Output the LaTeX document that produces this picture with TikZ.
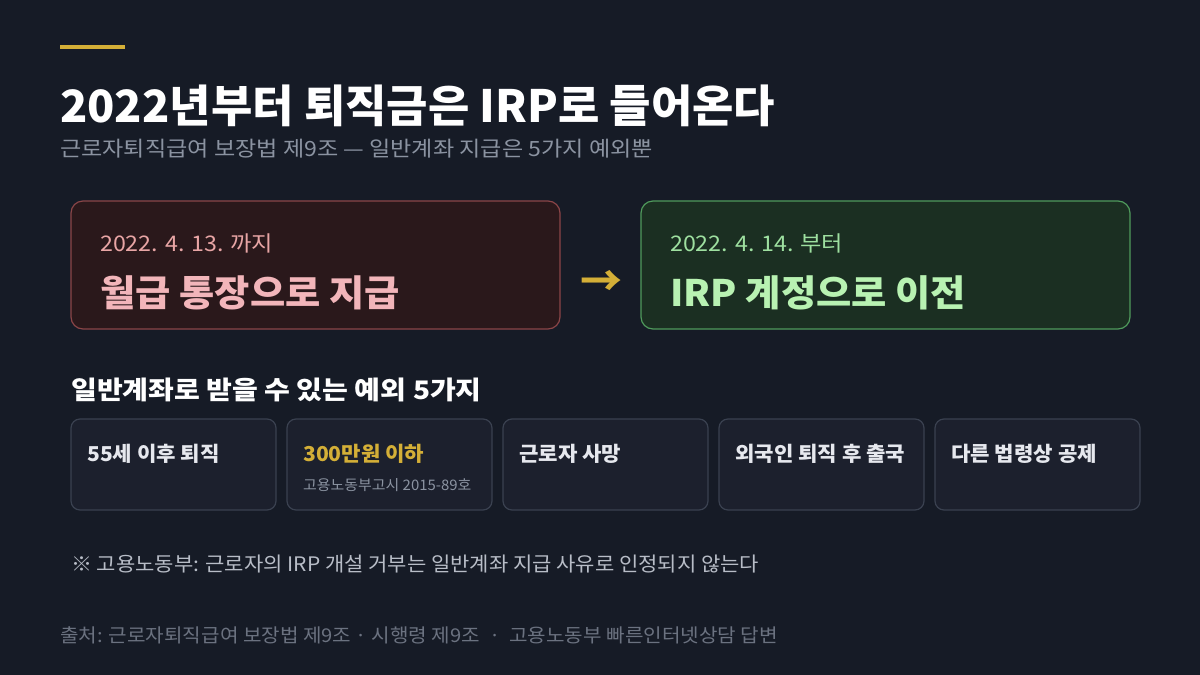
\documentclass[tikz,border=0pt]{standalone}
\usepackage{fontspec}
\setmainfont{Noto Sans CJK KR}
\definecolor{bg}{HTML}{161B26}
\definecolor{gold}{HTML}{D4AF37}
\definecolor{sub}{HTML}{8B93A1}
\definecolor{redf}{HTML}{2A181B}
\definecolor{redb}{HTML}{8A4548}
\definecolor{redt}{HTML}{E8A5A5}
\definecolor{redm}{HTML}{F2B5BA}
\definecolor{grnf}{HTML}{1B2F22}
\definecolor{grnb}{HTML}{4F9A5C}
\definecolor{grnt}{HTML}{9EE0A0}
\definecolor{grnm}{HTML}{B8F2B2}
\definecolor{cardf}{HTML}{1C202D}
\definecolor{cardb}{HTML}{3A4150}
\definecolor{cardt}{HTML}{E6E8EE}
\definecolor{note}{HTML}{B8BDC7}
\definecolor{src}{HTML}{6B7280}
\tikzset{
 txt/.style={anchor=base west,inner sep=0pt,transform shape},
 card/.style={draw=cardb,fill=cardf,line width=1.2pt,rounded corners=9pt},
 cardt/.style={txt,xscale=1.03,text=cardt,font=\fontsize{20.5}{24}\selectfont\bfseries},
}
\begin{document}
\begin{tikzpicture}[x=1pt,y=-1pt]
\fill[bg] (0,0) rectangle (1200,675);
\useasboundingbox (0,0) rectangle (1200,675);
\draw[gold,line width=4pt] (60,47) -- (125,47);
\node[txt,xscale=1.01,text=white,font=\fontsize{44.5}{50}\selectfont\bfseries] (title) at (60,122) {2022년부터 퇴직금은 IRP로 들어온다};
\node[txt,xscale=1.1,text=sub,font=\fontsize{21}{24}\selectfont] (subt) at (60,156) {근로자퇴직급여 보장법 제9조 — 일반계좌 지급은 5가지 예외뿐};
\draw[draw=redb,fill=redf,line width=1.2pt,rounded corners=12pt] (71,201) rectangle (560,329);
\node[txt,xscale=1.08,text=redt,font=\fontsize{21.5}{24}\selectfont] (rd) at (100,251) {2022. 4. 13. 까지};
\node[txt,xscale=1.05,text=redm,font=\fontsize{36.5}{40}\selectfont\bfseries] (rm) at (100,306) {월급 통장으로 지급};
\draw[draw=grnb,fill=grnf,line width=1.2pt,rounded corners=12pt] (641,201) rectangle (1130,329);
\node[txt,xscale=1.08,text=grnt,font=\fontsize{21.5}{24}\selectfont] (gd) at (670,251) {2022. 4. 14. 부터};
\node[txt,xscale=1.05,text=grnm,font=\fontsize{36.5}{40}\selectfont\bfseries] (gm) at (670,306) {IRP 계정으로 이전};
\node[text=gold,font=\fontsize{42}{46}\selectfont\bfseries,inner sep=0pt] (arr) at (601,283) {→};
\node[txt,xscale=1.1,text=white,font=\fontsize{25.5}{28}\selectfont\bfseries] (sec) at (71,399) {일반계좌로 받을 수 있는 예외 5가지};
\foreach \x/\t [count=\i] in {71/55세 이후 퇴직,287/{\textcolor{gold}{300만원 이하}},503/근로자 사망,719/외국인 퇴직 후 출국,935/다른 법령상 공제}{
 \draw[card] (\x,419) rectangle ++(205,91);
 \node[cardt] (c\i) at (\x+16,461) {\t};
}
\node[txt,xscale=1.03,text=sub,font=\fontsize{14.5}{16}\selectfont] (c2s) at (303,490) {고용노동부고시 2015-89호};
\node[txt,xscale=1.05,text=note,font=\fontsize{20}{22}\selectfont] (nt) at (71,571) {※ 고용노동부: 근로자의 IRP 개설 거부는 일반계좌 지급 사유로 인정되지 않는다};
\node[txt,xscale=1.06,text=src,font=\fontsize{19}{22}\selectfont] (sr) at (60,642) {출처: 근로자퇴직급여 보장법 제9조 · 시행령 제9조 \ · \ 고용노동부 빠른인터넷상담 답변};
\end{tikzpicture}
\end{document}
